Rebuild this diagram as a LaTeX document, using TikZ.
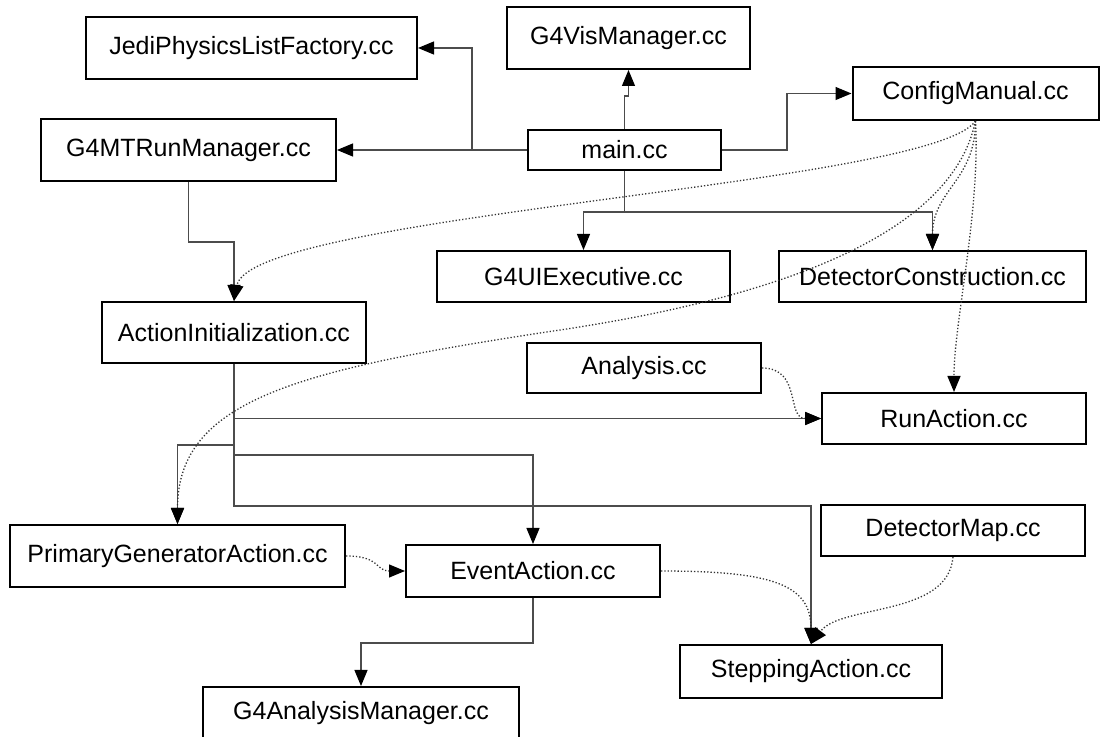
\documentclass[tikz,border=0pt]{standalone}
\usepackage{fontspec}
\setmainfont{Liberation Sans}
\usetikzlibrary{arrows.meta}

\begin{document}
\begin{tikzpicture}[x=0.5pt,y=-0.5pt,
  src/.style={draw,line width=1pt,inner sep=0pt,font=\fontsize{12.5}{15}\selectfont},
  link/.style={draw=black!70,line width=0.6pt,->},
  uses/.style={draw=black!80,line width=0.65pt,densely dotted,->},
  >={Triangle[length=8pt,width=6.5pt,color=black]}]
\useasboundingbox (0,0) rectangle (1100,737);

% source files
\node[src,minimum width=165.5pt,minimum height=31pt] (jedi) at (251.5,48) {JediPhysicsListFactory.cc};
\node[src,minimum width=121.5pt,minimum height=31pt] (vis) at (628.5,38) {G4VisManager.cc};
\node[src,minimum width=123pt,minimum height=26.5pt] (config) at (975.5,93.5) {ConfigManual.cc};
\node[src,minimum width=147.5pt,minimum height=31pt] (mtrm) at (188.5,150) {G4MTRunManager.cc};
\node[src,minimum width=96.5pt,minimum height=20pt] (main) at (624.5,150) {main.cc};
\node[src,minimum width=146.5pt,minimum height=25.5pt] (uiexec) at (583.5,276.5) {G4UIExecutive.cc};
\node[src,minimum width=153.5pt,minimum height=25.5pt] (detcon) at (932.5,276.5) {DetectorConstruction.cc};
\node[src,minimum width=132pt,minimum height=30.5pt] (actinit) at (234,332.5) {ActionInitialization.cc};
\node[src,minimum width=117pt,minimum height=25pt] (analysis) at (644,368) {Analysis.cc};
\node[src,minimum width=132pt,minimum height=25.5pt] (runaction) at (954,418.5) {RunAction.cc};
\node[src,minimum width=167.5pt,minimum height=31pt] (primgen) at (177.5,556) {PrimaryGeneratorAction.cc};
\node[src,minimum width=127pt,minimum height=26pt] (evaction) at (533,571) {EventAction.cc};
\node[src,minimum width=132pt,minimum height=25.5pt] (detmap) at (953,530.5) {DetectorMap.cc};
\node[src,minimum width=131pt,minimum height=26.5pt] (stepping) at (811,671.5) {SteppingAction.cc};
\node[src,minimum width=158pt,minimum height=26pt] (anamgr) at (361,713) {G4AnalysisManager.cc};

% includes
\draw[link] (main.west) -- ++(-55,0) |- (jedi.east);
\draw[link] (main.west) -- (mtrm.east);
\draw[link] (main.north) -- ++(0,-33) -| (vis.south);
\draw[link] (main.east) -- ++(65,0) |- (config.west);
\draw[link] (main.south) -- ++(0,41) -| (uiexec.north);
\draw[link] (main.south) -- ++(0,41) -| (detcon.north);
\draw[link] (mtrm.south) -- ++(0,60) -| (actinit.north);
\draw[link] (actinit.south) |- (runaction.west);
\draw[link] (actinit.south) -- ++(0,81) -| (primgen.north);
\draw[link] (actinit.south) -- ++(0,91) -| (evaction.north);
\draw[link] (actinit.south) -- ++(0,142) -| (stepping.north);
\draw[link] (evaction.south) -- ++(0,45) -| (anamgr.north);

% used through headers
\draw[uses] (config.south) .. controls +(-45,65) and +(16,-87) .. (actinit.north);
\draw[uses] (config.south) .. controls +(-25,120) and (760,300) .. (560,330)
  .. controls (300,369) and +(0,-125) .. (primgen.north);
\draw[uses] (config.south) .. controls +(0,60) and +(0,-60) .. (detcon.north);
\draw[uses] (config.south) .. controls +(5,90) and +(0,-70) .. (runaction.north);
\draw[uses] (analysis.east) .. controls +(40,0) and +(-35,0) .. (runaction.west);
\draw[uses] (primgen.east) .. controls +(35,0) and +(-30,0) .. (evaction.west);
\draw[uses] (evaction.east) .. controls +(110,0) and +(0,-60) .. (stepping.north);
\draw[uses] (detmap.south) .. controls +(-5,60) and +(30,-40) .. (stepping.north);
\end{tikzpicture}
\end{document}
